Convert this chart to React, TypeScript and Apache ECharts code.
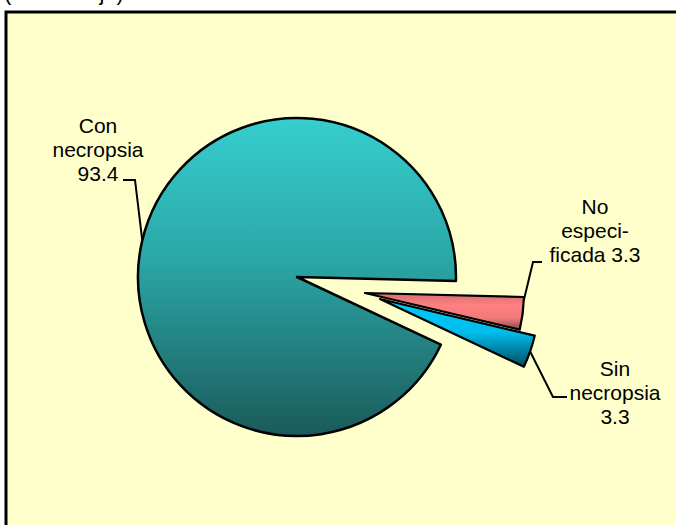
import React, { useEffect, useRef } from "react";
import * as echarts from "echarts";

// ---- data ----
const categories = ["Con necropsia", "No especificada", "Sin necropsia"];
const values = [93.4, 3.3, 3.3];
const labelLines = ["Con\nnecropsia", "No\nespeci-\nficada", "Sin\nnecropsia"];
const unitLabel = "(Porcentaje)";

// ---- styling / layout ----
const FONT = '"Liberation Sans", Arial, Helvetica, sans-serif';
const RADIUS = 159;
const START_ANGLE = -25.2;
// pie centres: main slice and the two exploded slices
const centers: [number, number][] = [
  [297, 277],
  [365, 293],
  [380, 299],
];
const labelPos: [number, number][] = [
  [98, 149],
  [595, 230],
  [615, 392],
];
// where along each slice's arc its leader line starts (0 = first edge, 1 = last edge)
const leaderFrac = [0.5, 0.1, 0.5];
const elbows: [number, number][][] = [
  [[135, 180], [123, 180]],
  [[533, 262], [542, 262]],
  [[553, 397], [567, 397]],
];
const fills = [
  {
    type: "linear", x: 0, y: 0, x2: 0, y2: 1,
    colorStops: [
      { offset: 0, color: "#36CECE" },
      { offset: 0.45, color: "#2BA6A6" },
      { offset: 1, color: "#1B5A5A" },
    ],
  },
  {
    type: "linear", x: 0, y: 0, x2: 0, y2: 1,
    colorStops: [
      { offset: 0, color: "#D87070" },
      { offset: 0.35, color: "#FF8080" },
      { offset: 0.7, color: "#F07A7A" },
      { offset: 1, color: "#8E4444" },
    ],
  },
  {
    type: "linear", x: 0, y: 0, x2: 0, y2: 1,
    colorStops: [
      { offset: 0, color: "#00CCFF" },
      { offset: 0.5, color: "#00BCEB" },
      { offset: 1, color: "#004C60" },
    ],
  },
];

function fmtLabel(i: number): string {
  const v = values[i].toFixed(1);
  return i === 1 ? `${labelLines[i]} ${v}` : `${labelLines[i]}\n${v}`;
}

function leaderStart(k: number): [number, number] {
  const total = values.reduce((a, b) => a + b, 0);
  let before = 0;
  for (let i = 0; i < k; i++) before += values[i];
  // clockwise from START_ANGLE (counter-clockwise degrees from 3 o'clock)
  const deg = START_ANGLE - 360 * (before + leaderFrac[k] * values[k]) / total;
  const rad = (deg * Math.PI) / 180;
  return [centers[k][0] + RADIUS * Math.cos(rad), centers[k][1] - RADIUS * Math.sin(rad)];
}

function buildSeries(k: number) {
  return {
    type: "pie",
    name: categories[k],
    center: centers[k],
    radius: [0, RADIUS],
    startAngle: START_ANGLE,
    clockwise: true,
    avoidLabelOverlap: false,
    silent: true,
    z: 2 + k,
    emphasis: { disabled: true },
    label: { show: false },
    labelLine: { show: false },
    data: categories.map((name, i) => ({
      name,
      value: values[i],
      itemStyle:
        i === k
          ? { color: fills[k], borderColor: "#000", borderWidth: k === 0 ? 2.5 : 2.2 }
          : { color: "rgba(0,0,0,0)", borderWidth: 0, borderColor: "rgba(0,0,0,0)" },
      label: {
        show: i === k,
        position: "outside",
        formatter: () => fmtLabel(i),
        color: "#000",
        fontFamily: FONT,
        fontSize: 21,
        lineHeight: 24,
        align: "center",
      },
      labelLine: {
        show: i === k,
        length: 10,
        length2: 10,
        smooth: false,
        lineStyle: { color: "#000", width: 2 },
      },
    })),
    labelLayout: (params: any) => {
      if (params.dataIndex !== k) return {};
      return {
        x: labelPos[k][0],
        y: labelPos[k][1],
        align: "center",
        verticalAlign: "middle",
        labelLinePoints: [leaderStart(k), elbows[k][0], elbows[k][1]],
      };
    },
  };
}

export default function App() {
  const ref = useRef<HTMLDivElement>(null);
  useEffect(() => {
    document.body.style.margin = "0";
    if (!ref.current) return;
    const chart = echarts.init(ref.current, undefined, { renderer: "svg" });
    chart.setOption({
      animation: false,
      backgroundColor: "#FFFFFF",
      graphic: [
        {
          type: "text",
          x: 4,
          y: 3,
          z: 0,
          style: {
            text: unitLabel,
            font: `22px ${FONT}`,
            fill: "#000",
            verticalAlign: "bottom",
          },
        },
        {
          type: "rect",
          z: 0,
          shape: { x: 6, y: 12, width: 720, height: 620 },
          style: { fill: "#FFFFCC", stroke: "#000", lineWidth: 3 },
        },
      ],
      series: [buildSeries(0), buildSeries(1), buildSeries(2)],
    });
    return () => chart.dispose();
  }, []);
  return <div ref={ref} style={{ width: 676, height: 525 }} />;
}
